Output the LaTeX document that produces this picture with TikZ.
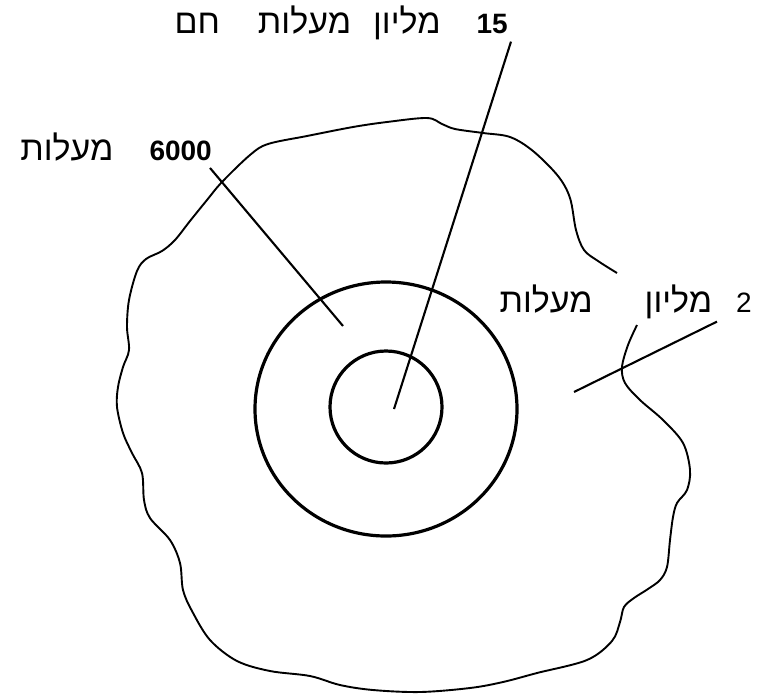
\documentclass[tikz,border=0pt]{standalone}
\usepackage{fontspec}
\newfontfamily\hebfont[Script=Hebrew]{Liberation Sans}
\TeXXeTstate=1
\newcommand{\digs}[1]{{\fontsize{28}{28}\selectfont #1}}

\begin{document}
\begin{tikzpicture}[
		x=1pt, y=-1pt,
		ring/.style={draw=black, line width=3.2pt},
		outline/.style={draw=black, line width=1.9pt, line join=round},
		pointer/.style={draw=black, line width=2.1pt},
		label/.style={font=\hebfont\fontsize{34}{34}\selectfont, inner sep=0pt}
		]
		\useasboundingbox (0,0) rectangle (759,694);
		
		% ---------------------------------------------------------
		% The corona: an irregular outline, open where the label sits
		% ---------------------------------------------------------
		\draw[outline] plot[smooth, tension=0.55] coordinates {
			(637,325) (628,345) (622,367) (625,383) (640,400) (663,420)
			(683,443) (690,470) (687,490) (677,503) (673,517) (670,540)
			(667,567) (660,580) (648,589) (634,598) (624,607) (620,622)
			(612,641) (587,660) (537,673) (503,682) (470,688) (420,692)
			(373,690) (340,685) (310,676) (270,671) (237,661) (210,640)
			(192,611) (183,590) (180,563) (170,540) (150,518) (144,500)
			(142,473) (132,453) (123,433) (117,407) (118,387) (123,367)
			(129,350) (127,327) (129,300) (137,271) (146,259) (162,251)
			(175,240) (190,221) (207,200) (222,182) (250,155) (268,144)
			(307,136) (353,127) (387,122) (427,118) (442,124) (455,129)
			(483,133) (510,137) (533,151) (558,176) (570,198) (576,230)
			(584,250) (598,261) (617,273)
		};
		
		% ---------------------------------------------------------
		% The two shells round the core
		% ---------------------------------------------------------
		\draw[ring] (386,409) ellipse [x radius=131, y radius=127];
		\draw[ring] (386,407) circle [radius=56];
		
		% ---------------------------------------------------------
		% Labels
		% ---------------------------------------------------------
		\node[label, anchor=base east] (hot) at (508,33)
			{\beginR\beginL\textbf{\digs{15}}\endL\hspace{36pt}מליון\hspace{22pt}מעלות\hspace{38pt}חם\endR};
		\node[label, anchor=base east] (six) at (212,160)
			{\beginR\beginL\textbf{\digs{6000}}\endL\hspace{36pt}מעלות\endR};
		\node[label, anchor=base east] (two) at (752,312)
			{\beginR\beginL\digs{2}\endL\hspace{24pt}מליון\hspace{52pt}מעלות\endR};
		
		% Points that the pointers aim at
		\coordinate (core) at (394,409);
		\coordinate (shell) at (343,326);
		\coordinate (haze) at (574,392);
		
		\draw[pointer] ([shift={(3,2)}]hot.south east) -- (core);
		\draw[pointer] ([shift={(-2,7)}]six.south east) -- (shell);
		\draw[pointer] ([shift={(-35,3)}]two.south east) -- (haze);
		
	\end{tikzpicture}
\end{document}
